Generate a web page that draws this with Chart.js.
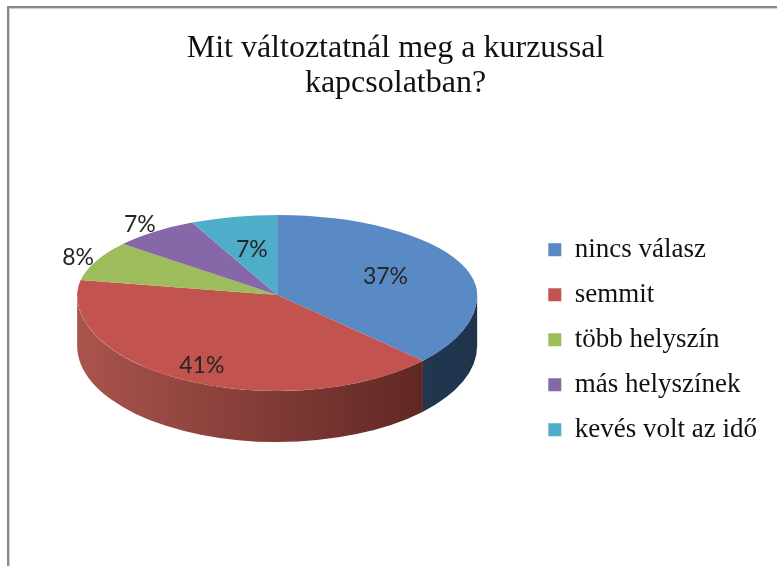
<!DOCTYPE html>
<html>
<head>
<meta charset="utf-8">
<script src="https://cdn.jsdelivr.net/npm/chart.js@4/dist/chart.umd.min.js"></script>
<style>
  html, body { margin: 0; padding: 0; background: #fff; }
  #wrap { position: relative; width: 777px; height: 566px; overflow: hidden; }
  #frame {
    position: absolute; left: 7px; top: 6px; width: 900px; height: 700px;
    border-left: 2px solid #8a8a8a; border-top: 2px solid #8a8a8a;
    box-shadow: inset 1px 1px 0 #cfcfcf; pointer-events: none;
  }
  canvas { position: absolute; left: 0; top: 0; }
</style>
</head>
<body>
<div id="wrap">
  <canvas id="pieChart" width="777" height="566"></canvas>
  <div id="frame"></div>
</div>
<script>
const titleLines = ['Mit változtatnál meg a kurzussal', 'kapcsolatban?']
const categories = ['nincs válasz', 'semmit', 'több helyszín', 'más helyszínek', 'kevés volt az idő']
const percentValues = [37, 41, 8, 7, 7]
const topColors = ['#5a8ac6', '#c2534f', '#9dbd5c', '#8667a7', '#4eaec9']
const sideColors = [['#2c4a6b', '#1f344c'], ['#aa544d', '#55201d'], ['#7a9444', '#5f7533'], ['#654f85', '#4d3c66'], ['#3a8aa0', '#2c6b7c']]

// fake 3d: back half is flatter than the front half, plus a wall under the front
const backTilt = 0.4
const frontTilt = 0.48
const depth = 51
const centerY = 295
const labelRadius = [0.59, 0.83, 1.1, 1.12, 0.58]

const pie3d = {
  id: 'pie3d',
  beforeDatasetsDraw(chart) {
    const ctx = chart.ctx
    const arcs = chart.getDatasetMeta(0).data
    const w = chart.width, h = chart.height
    ctx.save()
    arcs.forEach((arc, i) => {
      const a1 = Math.max(arc.startAngle, 0)
      const a2 = Math.min(arc.endAngle, Math.PI)
      if (a2 <= a1) return
      const rx = arc.outerRadius, ry = rx * frontTilt
      const g = ctx.createLinearGradient(arc.x - rx, 0, arc.x + rx, 0)
      g.addColorStop(0, sideColors[i][0])
      g.addColorStop(1, sideColors[i][1])
      ctx.beginPath()
      ctx.ellipse(arc.x, centerY, rx, ry, 0, a1, a2)
      ctx.ellipse(arc.x, centerY + depth, rx, ry, 0, a2, a1, true)
      ctx.closePath()
      ctx.fillStyle = g
      ctx.fill()
    })
    ctx.restore()

    const y0 = arcs[0].y
    const halves = [[backTilt, 0, centerY + 0.5], [frontTilt, centerY - 0.5, h]]
    halves.forEach(([k, top, bottom]) => {
      ctx.save()
      ctx.beginPath()
      ctx.rect(0, top, w, bottom - top)
      ctx.clip()
      ctx.translate(0, centerY)
      ctx.scale(1, k)
      ctx.translate(0, -y0)
      arcs.forEach(arc => arc.draw(ctx))
      ctx.restore()
    })

    ctx.save()
    ctx.font = '23px Lato, "Open Sans", sans-serif'
    ctx.fillStyle = '#262626'
    ctx.textAlign = 'center'
    ctx.textBaseline = 'middle'
    arcs.forEach((arc, i) => {
      const mid = (arc.startAngle + arc.endAngle) / 2
      const r = arc.outerRadius * labelRadius[i]
      const s = Math.sin(mid)
      const x = arc.x + Math.cos(mid) * r
      const y = centerY + s * r * (s < 0 ? backTilt : frontTilt)
      ctx.fillText(percentValues[i] + '%', x, y)
    })
    ctx.restore()
    return false
  }
}

new Chart(document.getElementById('pieChart'), {
  type: 'pie',
  data: {
    labels: categories,
    datasets: [{
      data: percentValues,
      backgroundColor: topColors,
      borderWidth: 0
    }]
  },
  options: {
    responsive: false,
    animation: false,
    radius: 200,
    layout: { padding: { left: 24, right: 10, top: 0, bottom: 8 } },
    plugins: {
      title: {
        display: true,
        text: titleLines,
        color: '#111',
        font: { family: '"Liberation Serif", "Times New Roman", serif', size: 32, weight: 'normal', lineHeight: 1.1 },
        padding: { top: 31, bottom: 20 }
      },
      legend: {
        position: 'right',
        fullSize: false,
        labels: {
          color: '#111',
          boxWidth: 13,
          boxHeight: 13,
          padding: 18,
          font: { family: '"Liberation Serif", "Times New Roman", serif', size: 27 }
        }
      },
      tooltip: { enabled: false }
    }
  },
  plugins: [pie3d]
})
</script>
</body>
</html>
